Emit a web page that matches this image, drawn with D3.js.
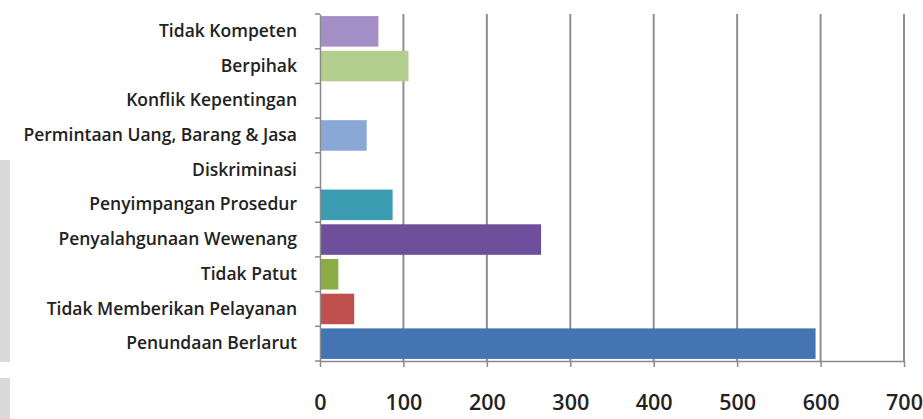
<!DOCTYPE html>
<html>
<head>
<meta charset="utf-8">
<script src="https://cdn.jsdelivr.net/npm/d3@7"></script>
<style>
  html, body { margin: 0; padding: 0; background: #fff; }
  svg { display: block; }
</style>
</head>
<body>
<svg id="chart" width="923" height="419"></svg>
<script>
// Jenis maladministrasi, listed top to bottom
const categories = [
  "Tidak Kompeten",
  "Berpihak",
  "Konflik Kepentingan",
  "Permintaan Uang, Barang & Jasa",
  "Diskriminasi",
  "Penyimpangan Prosedur",
  "Penyalahgunaan Wewenang",
  "Tidak Patut",
  "Tidak Memberikan Pelayanan",
  "Penundaan Berlarut"
];
const values = [70, 106, 0, 56, 0, 87, 265, 22, 41, 594];
const barColors = [
  "#a48ec6", "#b4ce8d", "#ffffff", "#8aa8d6", "#ffffff",
  "#3a9bb1", "#6d4f9c", "#8cad45", "#c0504d", "#4474b2"
];
const tickValues = [0, 100, 200, 300, 400, 500, 600, 700];

const svg = d3.select("#chart");
const plotLeft = 320, plotRight = 904, plotTop = 14, plotBottom = 361;

// faint grey strip along the left edge
svg.append("rect").attr("x", 0).attr("y", 160).attr("width", 10).attr("height", 202).attr("fill", "#dadada");
svg.append("rect").attr("x", 0).attr("y", 378).attr("width", 10).attr("height", 41).attr("fill", "#dadada");

const x = d3.scaleLinear().domain([0, 700]).range([plotLeft, plotRight]);
const y = d3.scaleBand().domain(categories).range([plotTop, plotBottom]).paddingInner(0.12).paddingOuter(0.06);
const band = d3.scaleBand().domain(categories).range([plotTop, plotBottom]);

// vertical gridlines
svg.append("g").selectAll("line")
  .data(tickValues.filter(d => d > 0))
  .join("line")
  .attr("x1", d => x(d)).attr("x2", d => x(d))
  .attr("y1", plotTop).attr("y2", plotBottom)
  .attr("stroke", "#8f8f8f").attr("stroke-width", 2);

// bars
svg.append("g").selectAll("rect")
  .data(categories)
  .join("rect")
  .attr("x", x(0))
  .attr("y", d => y(d))
  .attr("height", y.bandwidth())
  .attr("width", (d, i) => x(values[i]) - x(0))
  .attr("fill", (d, i) => barColors[i]);

// category axis on the left
const yAxis = d3.axisLeft(band).tickSize(5).tickPadding(18).tickSizeOuter(0);
const gy = svg.append("g").attr("transform", `translate(${plotLeft},0)`).call(yAxis);
gy.select(".domain").attr("stroke", "#8a8a8a").attr("stroke-width", 1.5);
gy.selectAll(".tick line").attr("stroke", "#8a8a8a").attr("stroke-width", 1.5)
  .attr("transform", `translate(0,${-band.bandwidth() / 2})`);
// closing tick at the bottom of the category axis
svg.append("line").attr("x1", plotLeft - 5).attr("x2", plotLeft).attr("y1", plotBottom).attr("y2", plotBottom)
  .attr("stroke", "#8a8a8a").attr("stroke-width", 1.5);
gy.selectAll(".tick text")
  .attr("fill", "#222")
  .style("font-family", "'Open Sans', sans-serif")
  .style("font-weight", "600")
  .style("font-size", "17.5px");

// value axis at the bottom
const xAxis = d3.axisBottom(x).tickValues(tickValues).tickSize(6).tickPadding(28).tickSizeOuter(0);
const gx = svg.append("g").attr("transform", `translate(0,${plotBottom})`).call(xAxis);
gx.select(".domain").attr("stroke", "#8a8a8a").attr("stroke-width", 1.5);
gx.selectAll(".tick line").attr("stroke", "#8a8a8a").attr("stroke-width", 1.5);
gx.selectAll(".tick text")
  .attr("fill", "#222")
  .style("font-family", "'Open Sans', sans-serif")
  .style("font-weight", "600")
  .style("font-size", "21.5px");
</script>
</body>
</html>
